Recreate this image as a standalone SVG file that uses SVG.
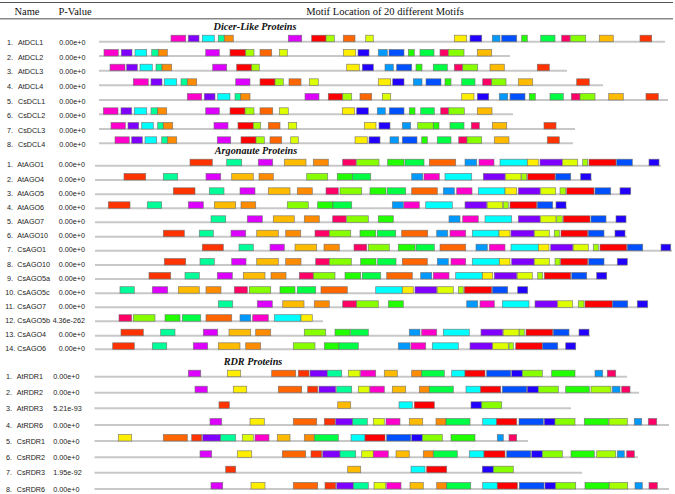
<svg xmlns="http://www.w3.org/2000/svg" width="675" height="494" viewBox="0 0 675 494">
<style>
text{font-family:"Liberation Sans",Arial,sans-serif;font-size:7.2px;fill:#222}
.h{font-family:"Liberation Serif","Times New Roman",serif;font-size:10.5px;fill:#111}
.t{font-family:"Liberation Serif","Times New Roman",serif;font-size:10.2px;font-weight:bold;font-style:italic;fill:#111}
.ln{stroke:#c8c8c8;stroke-width:2}
.r rect{y:-6.5px;height:6.5px;stroke:#6e6e6e;stroke-width:0.7;stroke-opacity:0.85}
.c1{fill:#ff00cc}.c2{fill:#7f00ff}.c3{fill:#00ffff}.c4{fill:#00ff99}.c5{fill:#ff8c00}
.c6{fill:#dd00ff}.c7{fill:#ff0000}.c8{fill:#a6ff00}.c9{fill:#ff6600}.c10{fill:#ddff00}
.c11{fill:#ffee00}.c12{fill:#2200ff}.c13{fill:#0099ff}.c14{fill:#0050ff}.c15{fill:#22ff00}
.c16{fill:#00ff44}.c17{fill:#ff0066}.c18{fill:#88ff00}.c19{fill:#ffbb00}.c20{fill:#ff3300}
</style>
<g id="header">
<line x1="0" y1="2.5" x2="673" y2="2.5" stroke="#555" stroke-width="1"/>
<line x1="0" y1="18.7" x2="673" y2="18.7" stroke="#888" stroke-width="1.5"/>
<text class="h" x="27" y="14.5" text-anchor="middle">Name</text>
<text class="h" x="75" y="14.5" text-anchor="middle">P-Value</text>
<text class="h" x="385" y="14.5" text-anchor="middle">Motif Location of 20 different Motifs</text>
</g>
<g id="titles">
<text class="t" x="255" y="29.6" text-anchor="middle">Dicer-Like Proteins</text>
<text class="t" x="256" y="153.6" text-anchor="middle">Argonaute Proteins</text>
<text class="t" x="253" y="364.6" text-anchor="middle">RDR Proteins</text>
</g>
<g id="dicer">
<g id="AtDCL1" class="r" transform="translate(0,41.7)"><line class="ln" x1="99" x2="665"/><text x="7" y="3.5">1.</text><text x="18" y="3.5">AtDCL1</text><text x="59.3" y="3.5">0.00e+0</text>
<rect x="171" width="14.7" class="c1"/><rect x="188.3" width="10.7" class="c2"/><rect x="202.3" width="12" class="c3"/><rect x="218.3" width="6" class="c4"/><rect x="224.3" width="9" class="c5"/><rect x="288.3" width="13.4" class="c6"/><rect x="311.7" width="14.3" class="c7"/><rect x="326" width="8.3" class="c8"/><rect x="343.3" width="11.7" class="c9"/><rect x="365.7" width="7.6" class="c10"/><rect x="454.3" width="12.4" class="c11"/><rect x="470" width="11.7" class="c12"/><rect x="492.3" width="7.7" class="c13"/><rect x="501.7" width="15" class="c14"/><rect x="521.7" width="5.6" class="c15"/><rect x="540.7" width="14.3" class="c16"/><rect x="561.7" width="8.3" class="c17"/><rect x="570.7" width="15" class="c18"/><rect x="599.3" width="14" class="c19"/><rect x="640" width="11.7" class="c20"/></g>
<g id="AtDCL2" class="r" transform="translate(0,56)"><line class="ln" x1="99" x2="510"/><text x="7" y="3.5">2.</text><text x="18" y="3.5">AtDCL2</text><text x="59.3" y="3.5">0.00e+0</text>
<rect x="104" width="14.3" class="c1"/><rect x="121.3" width="10.7" class="c2"/><rect x="135" width="11.7" class="c3"/><rect x="151.7" width="6.6" class="c4"/><rect x="158.3" width="9" class="c5"/><rect x="205.7" width="13.6" class="c6"/><rect x="230" width="15.7" class="c7"/><rect x="245.7" width="8.3" class="c8"/><rect x="260" width="11.7" class="c9"/><rect x="279.3" width="8" class="c10"/><rect x="343.3" width="12.4" class="c11"/><rect x="358" width="11" class="c12"/><rect x="378.3" width="9" class="c13"/><rect x="389" width="15" class="c14"/><rect x="408.3" width="6" class="c15"/><rect x="420" width="14" class="c16"/><rect x="440" width="8.3" class="c17"/><rect x="448.3" width="15.7" class="c18"/><rect x="477.3" width="14.4" class="c19"/></g>
<g id="AtDCL3" class="r" transform="translate(0,70.7)"><line class="ln" x1="99" x2="567"/><text x="7" y="3.5">3.</text><text x="18" y="3.5">AtDCL3</text><text x="59.3" y="3.5">0.00e+0</text>
<rect x="110" width="15" class="c1"/><rect x="126.7" width="10.6" class="c2"/><rect x="140" width="12.3" class="c3"/><rect x="156" width="6" class="c4"/><rect x="162" width="9.7" class="c5"/><rect x="212.7" width="14" class="c6"/><rect x="236.7" width="15" class="c7"/><rect x="251.7" width="7.6" class="c8"/><rect x="346.7" width="12.6" class="c11"/><rect x="362.3" width="11" class="c12"/><rect x="385" width="8.3" class="c13"/><rect x="396.7" width="15" class="c14"/><rect x="416" width="6" class="c15"/><rect x="433.3" width="14" class="c16"/><rect x="454.3" width="8.4" class="c17"/><rect x="462.7" width="15" class="c18"/><rect x="490" width="14.3" class="c19"/><rect x="537.3" width="12" class="c20"/></g>
<g id="AtDCL4" class="r" transform="translate(0,85.3)"><line class="ln" x1="99" x2="603"/><text x="7" y="3.5">4.</text><text x="18" y="3.5">AtDCL4</text><text x="59.3" y="3.5">0.00e+0</text>
<rect x="133.3" width="15" class="c1"/><rect x="151" width="11" class="c2"/><rect x="164.3" width="12.4" class="c3"/><rect x="181" width="6.3" class="c4"/><rect x="187.3" width="9.4" class="c5"/><rect x="235.7" width="14.3" class="c6"/><rect x="260" width="15" class="c7"/><rect x="275" width="8.3" class="c8"/><rect x="289" width="12" class="c9"/><rect x="309.3" width="9" class="c10"/><rect x="378.3" width="12.4" class="c11"/><rect x="392.7" width="11.3" class="c12"/><rect x="413.3" width="8.7" class="c13"/><rect x="426" width="15" class="c14"/><rect x="445" width="6" class="c15"/><rect x="461.7" width="13.3" class="c16"/><rect x="482.7" width="9" class="c17"/><rect x="491.7" width="14.3" class="c18"/><rect x="518.3" width="14.4" class="c19"/><rect x="576.7" width="12.6" class="c20"/></g>
<g id="CsDCL1" class="r" transform="translate(0,100)"><line class="ln" x1="99" x2="668"/><text x="7" y="3.5">5.</text><text x="18" y="3.5">CsDCL1</text><text x="59.3" y="3.5">0.00e+0</text>
<rect x="187.3" width="14.4" class="c1"/><rect x="204.3" width="10.7" class="c2"/><rect x="217.7" width="12.3" class="c3"/><rect x="235" width="5.7" class="c4"/><rect x="240.7" width="9.3" class="c5"/><rect x="305" width="14" class="c6"/><rect x="328.3" width="14.4" class="c7"/><rect x="342.7" width="9" class="c8"/><rect x="360" width="11.7" class="c9"/><rect x="382.3" width="8.4" class="c10"/><rect x="461.7" width="12.3" class="c11"/><rect x="477.3" width="11.4" class="c12"/><rect x="499.3" width="8.4" class="c13"/><rect x="510" width="15" class="c14"/><rect x="529.3" width="6" class="c15"/><rect x="550" width="13.3" class="c16"/><rect x="571.3" width="8.7" class="c17"/><rect x="580" width="15" class="c18"/><rect x="608.7" width="14.6" class="c19"/><rect x="646" width="12.3" class="c20"/></g>
<g id="CsDCL2" class="r" transform="translate(0,114.3)"><line class="ln" x1="99" x2="513"/><text x="7" y="3.5">6.</text><text x="18" y="3.5">CsDCL2</text><text x="59.3" y="3.5">0.00e+0</text>
<rect x="103.3" width="14.7" class="c1"/><rect x="121" width="10.7" class="c2"/><rect x="134.3" width="12.4" class="c3"/><rect x="151" width="6.7" class="c4"/><rect x="157.7" width="9" class="c5"/><rect x="205.7" width="13.6" class="c6"/><rect x="230" width="15" class="c7"/><rect x="245" width="9" class="c8"/><rect x="260" width="12.7" class="c9"/><rect x="279.3" width="9" class="c10"/><rect x="342.3" width="12.4" class="c11"/><rect x="356.7" width="11.6" class="c12"/><rect x="377.3" width="8" class="c13"/><rect x="389.3" width="14.7" class="c14"/><rect x="409.3" width="5.7" class="c15"/><rect x="420.7" width="13.6" class="c16"/><rect x="440.7" width="8" class="c17"/><rect x="448.7" width="15.6" class="c18"/><rect x="477.3" width="14.7" class="c19"/></g>
<g id="CsDCL3" class="r" transform="translate(0,129)"><line class="ln" x1="99" x2="575"/><text x="7" y="3.5">7.</text><text x="18" y="3.5">CsDCL3</text><text x="59.3" y="3.5">0.00e+0</text>
<rect x="111" width="14.3" class="c1"/><rect x="128" width="10.7" class="c2"/><rect x="141.7" width="11.6" class="c3"/><rect x="157.7" width="5.6" class="c4"/><rect x="163.3" width="9.4" class="c5"/><rect x="214" width="14" class="c6"/><rect x="238" width="15.3" class="c7"/><rect x="253.3" width="7.4" class="c8"/><rect x="268.3" width="11.7" class="c9"/><rect x="288.3" width="8.4" class="c10"/><rect x="364.3" width="11.7" class="c11"/><rect x="379" width="11" class="c12"/><rect x="402.3" width="8.4" class="c13"/><rect x="417.7" width="15.6" class="c18"/><rect x="433.3" width="5.7" class="c15"/><rect x="450" width="14" class="c16"/><rect x="471.3" width="8" class="c17"/><rect x="492.3" width="14.4" class="c19"/><rect x="544" width="12" class="c20"/></g>
<g id="CsDCL4" class="r" transform="translate(0,143.3)"><line class="ln" x1="99" x2="573"/><text x="7" y="3.5">8.</text><text x="18" y="3.5">CsDCL4</text><text x="59.3" y="3.5">0.00e+0</text>
<rect x="115" width="14.3" class="c1"/><rect x="131.7" width="10.6" class="c2"/><rect x="145" width="11.7" class="c3"/><rect x="161.7" width="6" class="c4"/><rect x="167.7" width="9" class="c5"/><rect x="217.3" width="13.4" class="c6"/><rect x="241" width="15" class="c7"/><rect x="256" width="8.3" class="c8"/><rect x="270" width="11.7" class="c9"/><rect x="290.7" width="7.6" class="c10"/><rect x="355" width="12.3" class="c11"/><rect x="369" width="11" class="c12"/><rect x="390" width="8.7" class="c13"/><rect x="402.3" width="14.7" class="c14"/><rect x="421.7" width="5.6" class="c15"/><rect x="437.3" width="13.7" class="c16"/><rect x="458.7" width="8.3" class="c17"/><rect x="467" width="14.7" class="c18"/><rect x="494.3" width="14.7" class="c19"/><rect x="547.3" width="12" class="c20"/></g>
</g>
<g id="argonaute">
<g id="AtAGO1" class="r" transform="translate(0,165.7)"><line class="ln" x1="95" x2="661"/><text x="7" y="1.7">1.</text><text x="17.3" y="1.7">AtAGO1</text><text x="85" y="1.7" text-anchor="end">0.00e+0</text>
<rect x="190" width="22.3" class="c20"/><rect x="226.7" width="15" class="c4"/><rect x="258.3" width="14.4" class="c6"/><rect x="284.3" width="21.7" class="c19"/><rect x="313.3" width="15" class="c5"/><rect x="342.7" width="13.3" class="c17"/><rect x="356.7" width="22.3" class="c18"/><rect x="387.7" width="16.3" class="c15"/><rect x="405" width="19" class="c16"/><rect x="429.3" width="26.4" class="c9"/><rect x="465" width="11.7" class="c13"/><rect x="479" width="15" class="c1"/><rect x="500" width="27.3" class="c3"/><rect x="527.3" width="11" class="c11"/><rect x="540" width="22.3" class="c2"/><rect x="562.3" width="15.4" class="c10"/><rect x="582.7" width="5" class="c8"/><rect x="589" width="27" class="c7"/><rect x="616.7" width="15.6" class="c14"/><rect x="649" width="10" class="c12"/></g>
<g id="AtAGO4" class="r" transform="translate(0,180)"><line class="ln" x1="95" x2="592"/><text x="7" y="1.7">2.</text><text x="17.3" y="1.7">AtAGO4</text><text x="85" y="1.7" text-anchor="end">0.00e+0</text>
<rect x="124" width="21.7" class="c20"/><rect x="163.3" width="14.4" class="c4"/><rect x="206" width="14.7" class="c6"/><rect x="231.7" width="21.6" class="c19"/><rect x="259" width="14.3" class="c5"/><rect x="306.7" width="21" class="c18"/><rect x="337.3" width="15" class="c15"/><rect x="352.3" width="18.4" class="c16"/><rect x="411.7" width="11" class="c13"/><rect x="424" width="15.3" class="c1"/><rect x="445" width="26.7" class="c3"/><rect x="483.3" width="21.7" class="c2"/><rect x="505.7" width="15.3" class="c10"/><rect x="521.7" width="5" class="c8"/><rect x="527.7" width="27.3" class="c7"/><rect x="555.7" width="15" class="c14"/><rect x="580.7" width="10.3" class="c12"/></g>
<g id="AtAGO5" class="r" transform="translate(0,194.3)"><line class="ln" x1="95" x2="630"/><text x="7" y="1.7">3.</text><text x="17.3" y="1.7">AtAGO5</text><text x="85" y="1.7" text-anchor="end">0.00e+0</text>
<rect x="173.3" width="21.7" class="c20"/><rect x="209.3" width="14.7" class="c4"/><rect x="240" width="15" class="c6"/><rect x="268.3" width="21.7" class="c19"/><rect x="297.3" width="15" class="c5"/><rect x="326" width="12.3" class="c17"/><rect x="340" width="21.7" class="c18"/><rect x="370" width="16" class="c15"/><rect x="387.3" width="18.4" class="c16"/><rect x="411.7" width="25.6" class="c9"/><rect x="443.3" width="11" class="c13"/><rect x="456.7" width="15.3" class="c1"/><rect x="478.3" width="26.7" class="c3"/><rect x="505" width="11.7" class="c11"/><rect x="518.3" width="21.7" class="c2"/><rect x="540.7" width="15" class="c10"/><rect x="560" width="5.7" class="c8"/><rect x="566.7" width="27.3" class="c7"/><rect x="595" width="15.7" class="c14"/><rect x="620" width="10.7" class="c12"/></g>
<g id="AtAGO6" class="r" transform="translate(0,208.3)"><line class="ln" x1="95" x2="567"/><text x="7" y="1.7">4.</text><text x="17.3" y="1.7">AtAGO6</text><text x="85" y="1.7" text-anchor="end">0.00e+0</text>
<rect x="108.3" width="21.7" class="c20"/><rect x="147.3" width="14.4" class="c4"/><rect x="188.3" width="15" class="c6"/><rect x="214.3" width="21.4" class="c19"/><rect x="241" width="14.7" class="c5"/><rect x="287.3" width="21" class="c18"/><rect x="317.7" width="15.3" class="c15"/><rect x="333" width="18.7" class="c16"/><rect x="392.3" width="11" class="c13"/><rect x="404" width="15.3" class="c1"/><rect x="425.7" width="26.6" class="c3"/><rect x="465" width="21.7" class="c2"/><rect x="487.3" width="15.4" class="c10"/><rect x="503.3" width="5" class="c8"/><rect x="510" width="26.7" class="c7"/><rect x="537.3" width="15.4" class="c14"/><rect x="556" width="10" class="c12"/></g>
<g id="AtAGO7" class="r" transform="translate(0,222.3)"><line class="ln" x1="95" x2="626"/><text x="7" y="1.7">5.</text><text x="17.3" y="1.7">AtAGO7</text><text x="85" y="1.7" text-anchor="end">0.00e+0</text>
<rect x="211" width="14.7" class="c4"/><rect x="247.3" width="15" class="c6"/><rect x="273.3" width="21" class="c19"/><rect x="304.3" width="15" class="c5"/><rect x="332.7" width="13.3" class="c17"/><rect x="346.7" width="21.6" class="c18"/><rect x="378.3" width="15" class="c15"/><rect x="449" width="11" class="c13"/><rect x="462.7" width="15.6" class="c1"/><rect x="485" width="26.7" class="c3"/><rect x="518.3" width="21.7" class="c2"/><rect x="540.7" width="15.3" class="c10"/><rect x="556.7" width="5.6" class="c8"/><rect x="563.3" width="26.7" class="c7"/><rect x="591" width="15" class="c14"/><rect x="616" width="10" class="c12"/></g>
<g id="AtAGO10" class="r" transform="translate(0,236.7)"><line class="ln" x1="95" x2="627"/><text x="7" y="1.7">6.</text><text x="17.3" y="1.7">AtAGO10</text><text x="85" y="1.7" text-anchor="end">0.00e+0</text>
<rect x="163.3" width="21" class="c20"/><rect x="199.3" width="14" class="c4"/><rect x="231" width="14.7" class="c6"/><rect x="256.7" width="21.6" class="c19"/><rect x="285.7" width="15" class="c5"/><rect x="315" width="14.3" class="c17"/><rect x="329.3" width="21.4" class="c18"/><rect x="360" width="15.7" class="c15"/><rect x="377.3" width="18.4" class="c16"/><rect x="401.7" width="26" class="c9"/><rect x="436.7" width="11" class="c13"/><rect x="450" width="15.7" class="c1"/><rect x="472.3" width="26.7" class="c3"/><rect x="499" width="11" class="c11"/><rect x="511" width="23" class="c2"/><rect x="534.3" width="15" class="c10"/><rect x="554.3" width="5" class="c8"/><rect x="561" width="26.7" class="c7"/><rect x="588.3" width="15.7" class="c14"/><rect x="615" width="10" class="c12"/></g>
<g id="CsAGO1" class="r" transform="translate(0,250.7)"><line class="ln" x1="95" x2="672"/><text x="7" y="1.7">7.</text><text x="17.3" y="1.7">CsAGO1</text><text x="85" y="1.7" text-anchor="end">0.00e+0</text>
<rect x="202.3" width="21" class="c20"/><rect x="239" width="14.3" class="c4"/><rect x="270" width="14.3" class="c6"/><rect x="295" width="21.7" class="c19"/><rect x="324" width="15.3" class="c5"/><rect x="354" width="12.7" class="c17"/><rect x="368.3" width="21" class="c18"/><rect x="398.3" width="16.7" class="c15"/><rect x="416" width="18.3" class="c16"/><rect x="440" width="25.7" class="c9"/><rect x="476" width="11.3" class="c13"/><rect x="489.3" width="15.7" class="c1"/><rect x="511" width="27.3" class="c3"/><rect x="538.3" width="10.7" class="c11"/><rect x="550.7" width="22" class="c2"/><rect x="573.3" width="15" class="c10"/><rect x="593.3" width="5" class="c8"/><rect x="600" width="26.7" class="c7"/><rect x="627.3" width="15.4" class="c14"/><rect x="661" width="9.7" class="c12"/></g>
<g id="CsAGO10" class="r" transform="translate(0,265)"><line class="ln" x1="95" x2="627"/><text x="7" y="1.7">8.</text><text x="17.3" y="1.7">CsAGO10</text><text x="85" y="1.7" text-anchor="end">0.00e+0</text>
<rect x="164.3" width="21.4" class="c20"/><rect x="200" width="14.3" class="c4"/><rect x="231.7" width="14.3" class="c6"/><rect x="256.7" width="21.6" class="c19"/><rect x="285.7" width="15.3" class="c5"/><rect x="315.7" width="13.6" class="c17"/><rect x="329.3" width="22" class="c18"/><rect x="360.7" width="15.3" class="c15"/><rect x="377.7" width="18.3" class="c16"/><rect x="402.3" width="25" class="c9"/><rect x="437.3" width="11" class="c13"/><rect x="451" width="14.7" class="c1"/><rect x="472.3" width="27" class="c3"/><rect x="499.3" width="10.7" class="c11"/><rect x="511.7" width="22.3" class="c2"/><rect x="534.3" width="15" class="c10"/><rect x="555" width="5" class="c8"/><rect x="560.7" width="27" class="c7"/><rect x="588.7" width="15.3" class="c14"/><rect x="617.3" width="10" class="c12"/></g>
<g id="CsAGO5a" class="r" transform="translate(0,279)"><line class="ln" x1="95" x2="607"/><text x="7" y="1.7">9.</text><text x="17.3" y="1.7">CsAGO5a</text><text x="85" y="1.7" text-anchor="end">0.00e+0</text>
<rect x="149" width="21.7" class="c20"/><rect x="185" width="14.3" class="c4"/><rect x="217.3" width="15" class="c6"/><rect x="243.3" width="21.7" class="c19"/><rect x="271" width="15" class="c5"/><rect x="299.3" width="14" class="c17"/><rect x="313.3" width="21.7" class="c18"/><rect x="345" width="15.7" class="c15"/><rect x="362.3" width="18.4" class="c16"/><rect x="386.7" width="25.6" class="c9"/><rect x="420.7" width="11" class="c13"/><rect x="433.3" width="15.7" class="c1"/><rect x="455.7" width="26.6" class="c3"/><rect x="482.3" width="10.4" class="c11"/><rect x="494.3" width="22.4" class="c2"/><rect x="517.3" width="15" class="c10"/><rect x="537.7" width="5" class="c8"/><rect x="544.3" width="26.4" class="c7"/><rect x="571.7" width="15" class="c14"/><rect x="596.7" width="10" class="c12"/></g>
<g id="CsAGO5c" class="r" transform="translate(0,293.2)"><line class="ln" x1="95" x2="528"/><text x="5.3" y="1.7">10.</text><text x="17.3" y="1.7">CsAGO5c</text><text x="85" y="1.7" text-anchor="end">0.00e+0</text>
<rect x="120" width="14.3" class="c4"/><rect x="152.3" width="15.4" class="c6"/><rect x="178.3" width="21" class="c19"/><rect x="206" width="15" class="c5"/><rect x="234.3" width="13" class="c17"/><rect x="249.3" width="21.4" class="c18"/><rect x="280" width="15" class="c15"/><rect x="297.3" width="18.4" class="c16"/><rect x="321" width="26.3" class="c9"/><rect x="375.7" width="26.6" class="c3"/><rect x="402.3" width="11" class="c11"/><rect x="415" width="21.7" class="c2"/><rect x="437.3" width="16" class="c10"/><rect x="458.3" width="5" class="c8"/><rect x="464.3" width="27.4" class="c7"/><rect x="492.3" width="15.4" class="c14"/><rect x="517.7" width="10" class="c12"/></g>
<g id="CsAGO7" class="r" transform="translate(0,307.3)"><line class="ln" x1="95" x2="648"/><text x="5.3" y="1.7">11.</text><text x="17.3" y="1.7">CsAGO7</text><text x="85" y="1.7" text-anchor="end">0.00e+0</text>
<rect x="218.3" width="14.4" class="c4"/><rect x="257.3" width="15" class="c6"/><rect x="282.7" width="21.3" class="c19"/><rect x="314.3" width="15" class="c5"/><rect x="342.7" width="14" class="c17"/><rect x="356.7" width="21.6" class="c18"/><rect x="388.3" width="15" class="c15"/><rect x="466.7" width="11" class="c13"/><rect x="480" width="14.3" class="c1"/><rect x="502.3" width="26.7" class="c3"/><rect x="535" width="22.3" class="c2"/><rect x="557.7" width="15" class="c10"/><rect x="578.3" width="5.7" class="c8"/><rect x="585" width="27.3" class="c7"/><rect x="612.7" width="15" class="c14"/><rect x="637.3" width="10.4" class="c12"/></g>
<g id="CsAGO5b" class="r" transform="translate(0,321.2)"><line class="ln" x1="95" x2="323"/><text x="5.3" y="1.7">12.</text><text x="17.3" y="1.7">CsAGO5b</text><text x="85" y="1.7" text-anchor="end">4.36e-262</text>
<rect x="119" width="12.7" class="c17"/><rect x="133.3" width="21.7" class="c18"/><rect x="165" width="15" class="c15"/><rect x="182.3" width="18.4" class="c16"/><rect x="206" width="25.7" class="c9"/><rect x="240" width="10.7" class="c13"/><rect x="252.7" width="15.6" class="c1"/><rect x="274.3" width="26.7" class="c3"/><rect x="301" width="11.3" class="c11"/></g>
<g id="CsAGO4" class="r" transform="translate(0,335.7)"><line class="ln" x1="95" x2="590"/><text x="5.3" y="1.7">13.</text><text x="17.3" y="1.7">CsAGO4</text><text x="85" y="1.7" text-anchor="end">0.00e+0</text>
<rect x="121" width="22.3" class="c20"/><rect x="160.7" width="14.3" class="c4"/><rect x="203.3" width="14.4" class="c6"/><rect x="229" width="21.7" class="c19"/><rect x="255.7" width="15" class="c5"/><rect x="304.3" width="21.4" class="c18"/><rect x="335" width="15" class="c15"/><rect x="350.7" width="17.6" class="c16"/><rect x="409.3" width="10.7" class="c13"/><rect x="421.7" width="15" class="c1"/><rect x="443.3" width="26" class="c3"/><rect x="481" width="21.7" class="c2"/><rect x="503.3" width="15.7" class="c10"/><rect x="519.3" width="5" class="c8"/><rect x="526" width="26.7" class="c7"/><rect x="553.3" width="15.7" class="c14"/><rect x="579" width="10" class="c12"/></g>
<g id="CsAGO6" class="r" transform="translate(0,349.3)"><line class="ln" x1="95" x2="576"/><text x="5.3" y="1.7">14.</text><text x="17.3" y="1.7">CsAGO6</text><text x="85" y="1.7" text-anchor="end">0.00e+0</text>
<rect x="112.7" width="21.6" class="c20"/><rect x="152.3" width="14.4" class="c4"/><rect x="193.3" width="14.4" class="c6"/><rect x="218.3" width="21.7" class="c19"/><rect x="245.7" width="15" class="c5"/><rect x="293.3" width="21.7" class="c18"/><rect x="324.3" width="14.7" class="c15"/><rect x="339" width="19.3" class="c16"/><rect x="398.3" width="11.7" class="c13"/><rect x="411" width="14.7" class="c1"/><rect x="432.3" width="26" class="c3"/><rect x="470" width="22.3" class="c2"/><rect x="492.7" width="15.6" class="c10"/><rect x="509" width="4.3" class="c8"/><rect x="515.7" width="26.6" class="c7"/><rect x="542.7" width="15" class="c14"/><rect x="565.7" width="10" class="c12"/></g>
</g>
<g id="rdr">
<g id="AtRDR1" class="r" transform="translate(0,376.7)"><line class="ln" x1="94.5" x2="627"/><text x="6" y="2.5">1.</text><text x="16.7" y="2.5">AtRDR1</text><text x="53.3" y="2.5">0.00e+0</text>
<rect x="188.3" width="12.4" class="c6"/><rect x="227.3" width="13.4" class="c11"/><rect x="271.7" width="24" class="c9"/><rect x="298.3" width="10.7" class="c20"/><rect x="310" width="17.3" class="c2"/><rect x="327.3" width="14.4" class="c4"/><rect x="348.3" width="11.7" class="c10"/><rect x="360.7" width="15" class="c1"/><rect x="384.3" width="13" class="c19"/><rect x="411.7" width="10" class="c5"/><rect x="421.7" width="22.6" class="c16"/><rect x="451.7" width="13.3" class="c3"/><rect x="465" width="20" class="c7"/><rect x="486.7" width="24" class="c14"/><rect x="511.7" width="10.6" class="c12"/><rect x="522.3" width="20" class="c18"/><rect x="551.7" width="23.3" class="c15"/><rect x="595" width="7.7" class="c13"/><rect x="607.3" width="8.4" class="c17"/></g>
<g id="AtRDR2" class="r" transform="translate(0,392.7)"><line class="ln" x1="94.5" x2="639"/><text x="6" y="2.5">2.</text><text x="16.7" y="2.5">AtRDR2</text><text x="53.3" y="2.5">0.00e+0</text>
<rect x="195" width="12.3" class="c6"/><rect x="233.3" width="13.4" class="c11"/><rect x="278.3" width="23.4" class="c9"/><rect x="307.7" width="10" class="c20"/><rect x="319" width="16.7" class="c2"/><rect x="336.7" width="15" class="c4"/><rect x="358.3" width="11" class="c10"/><rect x="370" width="14.3" class="c1"/><rect x="392.3" width="13.4" class="c19"/><rect x="419.3" width="10" class="c5"/><rect x="429.3" width="24" class="c16"/><rect x="466" width="14.7" class="c3"/><rect x="480.7" width="20" class="c7"/><rect x="502.3" width="24.4" class="c14"/><rect x="527.3" width="11" class="c12"/><rect x="538.3" width="20" class="c18"/><rect x="565.7" width="23.6" class="c15"/><rect x="591" width="20" class="c8"/><rect x="612.3" width="7.7" class="c13"/><rect x="621.7" width="8.3" class="c17"/></g>
<g id="AtRDR3" class="r" transform="translate(0,408.3)"><line class="ln" x1="94.5" x2="571"/><text x="6" y="2.5">3.</text><text x="16.7" y="2.5">AtRDR3</text><text x="53.3" y="2.5">5.21e-93</text>
<rect x="219" width="10.3" class="c20"/><rect x="337.7" width="13" class="c19"/><rect x="399" width="13.3" class="c3"/><rect x="414.3" width="20" class="c7"/><rect x="471" width="10.7" class="c12"/><rect x="481.7" width="20" class="c18"/></g>
<g id="AtRDR6" class="r" transform="translate(0,425)"><line class="ln" x1="94.5" x2="669"/><text x="6" y="2.5">4.</text><text x="16.7" y="2.5">AtRDR6</text><text x="53.3" y="2.5">0.00e+0</text>
<rect x="210" width="11.7" class="c6"/><rect x="250" width="14.3" class="c11"/><rect x="293.3" width="23.4" class="c9"/><rect x="324.3" width="10.7" class="c20"/><rect x="335.7" width="17" class="c2"/><rect x="352.7" width="14.6" class="c4"/><rect x="373.3" width="11" class="c10"/><rect x="386" width="14" class="c1"/><rect x="409.3" width="13.4" class="c19"/><rect x="436" width="10" class="c5"/><rect x="446" width="24" class="c16"/><rect x="482.7" width="14" class="c3"/><rect x="496.7" width="20" class="c7"/><rect x="519" width="24.3" class="c14"/><rect x="544.3" width="10.7" class="c12"/><rect x="555" width="20" class="c18"/><rect x="584.3" width="24" class="c15"/><rect x="609" width="18.3" class="c8"/><rect x="634.3" width="7.4" class="c13"/><rect x="648.3" width="8.4" class="c17"/></g>
<g id="CsRDR1" class="r" transform="translate(0,441)"><line class="ln" x1="94.5" x2="528"/><text x="6" y="2.5">5.</text><text x="16.7" y="2.5">CsRDR1</text><text x="53.3" y="2.5">0.00e+0</text>
<rect x="118.3" width="13.4" class="c11"/><rect x="163.3" width="24" class="c9"/><rect x="191.7" width="10" class="c20"/><rect x="202.7" width="18" class="c2"/><rect x="220.7" width="15" class="c4"/><rect x="242.3" width="11" class="c10"/><rect x="255" width="14" class="c1"/><rect x="277.3" width="12.7" class="c19"/><rect x="304.3" width="10" class="c5"/><rect x="314.3" width="24" class="c16"/><rect x="351" width="14" class="c3"/><rect x="365" width="20" class="c7"/><rect x="386.7" width="24" class="c14"/><rect x="411.7" width="10.6" class="c12"/><rect x="422.3" width="20" class="c18"/><rect x="451" width="24" class="c15"/><rect x="497.3" width="6" class="c13"/><rect x="509" width="7.7" class="c17"/></g>
<g id="CsRDR2" class="r" transform="translate(0,457.3)"><line class="ln" x1="94.5" x2="638"/><text x="6" y="2.5">6.</text><text x="16.7" y="2.5">CsRDR2</text><text x="53.3" y="2.5">0.00e+0</text>
<rect x="200" width="11.7" class="c6"/><rect x="237.3" width="14.4" class="c11"/><rect x="282.3" width="23.4" class="c9"/><rect x="311" width="10.7" class="c20"/><rect x="322.7" width="17.3" class="c2"/><rect x="340" width="15.7" class="c4"/><rect x="361.7" width="11.6" class="c10"/><rect x="373.3" width="15" class="c1"/><rect x="396" width="13.3" class="c19"/><rect x="423.3" width="10" class="c5"/><rect x="433.3" width="24" class="c16"/><rect x="469.3" width="14.7" class="c3"/><rect x="484" width="21" class="c7"/><rect x="506.7" width="24" class="c14"/><rect x="531.7" width="10.6" class="c12"/><rect x="542.3" width="20" class="c18"/><rect x="571" width="23.3" class="c15"/><rect x="596.7" width="19" class="c8"/><rect x="617.3" width="7" class="c13"/><rect x="626.7" width="7.6" class="c17"/></g>
<g id="CsRDR3" class="r" transform="translate(0,472.7)"><line class="ln" x1="94.5" x2="582"/><text x="6" y="2.5">7.</text><text x="16.7" y="2.5">CsRDR3</text><text x="53.3" y="2.5">1.95e-92</text>
<rect x="225.7" width="10" class="c20"/><rect x="347.7" width="13" class="c19"/><rect x="411" width="14" class="c3"/><rect x="426.7" width="20" class="c7"/><rect x="482.3" width="11" class="c12"/><rect x="493.3" width="20" class="c18"/></g>
<g id="CsRDR6" class="r" transform="translate(0,489)"><line class="ln" x1="94.5" x2="669"/><text x="6" y="2.5">8.</text><text x="16.7" y="2.5">CsRDR6</text><text x="53.3" y="2.5">0.00e+0</text>
<rect x="211" width="11.7" class="c6"/><rect x="251" width="14" class="c11"/><rect x="293.3" width="24.4" class="c9"/><rect x="325" width="10.7" class="c20"/><rect x="336.7" width="16.6" class="c2"/><rect x="353.3" width="15" class="c4"/><rect x="374" width="11.7" class="c10"/><rect x="386.7" width="14.3" class="c1"/><rect x="410" width="13.3" class="c19"/><rect x="436.7" width="10" class="c5"/><rect x="446.7" width="24" class="c16"/><rect x="482.7" width="14.6" class="c3"/><rect x="497.3" width="20" class="c7"/><rect x="519.3" width="24.7" class="c14"/><rect x="545" width="10.7" class="c12"/><rect x="555.7" width="20" class="c18"/><rect x="585" width="24" class="c15"/><rect x="609.3" width="18.4" class="c8"/><rect x="635" width="7.3" class="c13"/><rect x="649" width="8.3" class="c17"/></g>
</g>
</svg>
